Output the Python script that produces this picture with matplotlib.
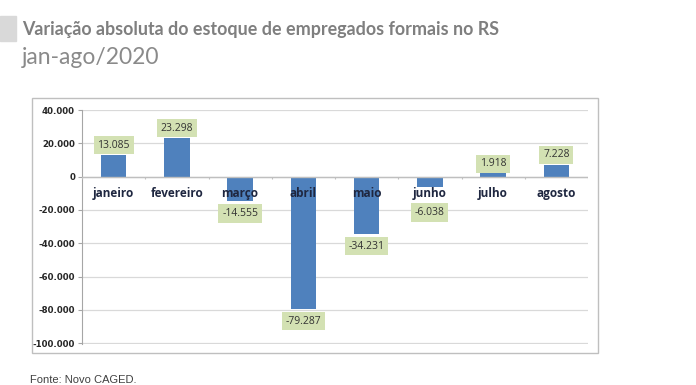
import matplotlib
matplotlib.use("Agg")
import matplotlib.pyplot as plt
from matplotlib.patches import Rectangle
from matplotlib.ticker import FuncFormatter

# ── data ──────────────────────────────────────────────────────────────────────
meses   = ["janeiro", "fevereiro", "março", "abril", "maio", "junho", "julho", "agosto"]
saldo   = [13085, 23298, -14555, -79287, -34231, -6038, 1918, 7228]
y_ticks = [40000, 20000, 0, -20000, -40000, -60000, -80000, -100000]

titulo    = "Variação absoluta do estoque de empregados formais no RS"
subtitulo = "jan-ago/2020"
fonte     = "Fonte: Novo CAGED."

BAR   = "#4f81bd"
BOX   = "#d3e1b3"
GRID  = "#d9d9d9"
NAVY  = "#1f2740"


def br(v, pos=None):
    return f"{v:,.0f}".replace(",", ".")


fig = plt.figure(figsize=(6.96, 3.85), dpi=100)
fig.patch.set_facecolor("white")

# chart frame (Excel-like box)
fig.add_artist(Rectangle((32 / 696, 1 - 353 / 385), 566 / 696, 255 / 385,
                         transform=fig.transFigure, fill=False,
                         edgecolor="#bfbfbf", linewidth=1.0))

ax = fig.add_axes([82 / 696, 1 - 344 / 385, 506 / 696, 234 / 385])
x = list(range(len(meses)))
ax.bar(x, saldo, width=0.4, color=BAR, zorder=2)

ax.set_ylim(-100500, 40000)
ax.set_xlim(-0.5, len(meses) - 0.5)
ax.set_yticks(y_ticks)
ax.yaxis.set_major_formatter(FuncFormatter(br))
ax.tick_params(axis="y", labelsize=6.2, length=3, color="#a6a6a6", pad=2)
for lbl in ax.get_yticklabels():
    lbl.set_fontweight("bold")
    lbl.set_color("#262626")
ax.set_xticks([])
ax.grid(axis="y", color=GRID, linewidth=0.9, zorder=0)
for s in ("top", "right", "bottom"):
    ax.spines[s].set_visible(False)
ax.spines["left"].set_color("#a6a6a6")

# zero axis with category separators
ax.axhline(0, color="#bfbfbf", linewidth=1.0, zorder=3)
ax.vlines([i - 0.5 for i in range(len(meses) + 1)], -1200, 0,
          color="#bfbfbf", linewidth=0.8, zorder=3)

for i, (m, v) in enumerate(zip(meses, saldo)):
    ax.annotate(m, (i, 0), xytext=(0, -12), textcoords="offset points",
                ha="center", va="center", fontsize=8.5, fontweight="bold",
                color=NAVY, family="Open Sans", zorder=5)
    if v > 0:
        anchor, off = v, 7
    else:
        # keep small negative labels clear of the month name
        anchor, off = min(v, -14000), -9
    ax.annotate(br(v), (i, anchor), xytext=(0, off), textcoords="offset points",
                ha="center", va="center", fontsize=7.5, color="#333333",
                family="Open Sans", zorder=5,
                bbox=dict(boxstyle="square,pad=0.35", facecolor=BOX,
                          edgecolor="none"))

# title block
fig.add_artist(Rectangle((0, 1 - 41 / 385), 16 / 696, 25 / 385,
                         transform=fig.transFigure, color="#d9d9d9"))
fig.text(22 / 696, 1 - 29 / 385, titulo, fontsize=12.9, fontweight="bold",
         color="#7f7f7f", family="Lato", va="center", ha="left")
fig.text(22 / 696, 1 - 57 / 385, subtitulo, fontsize=16.5, fontweight="normal",
         color="#8a8a8a", family="Lato", va="center", ha="left")
fig.text(30 / 696, 1 - 380 / 385, fonte, fontsize=8, color="#404040",
         family="Liberation Sans", va="center", ha="left")

fig.savefig("out.png", dpi=100)
